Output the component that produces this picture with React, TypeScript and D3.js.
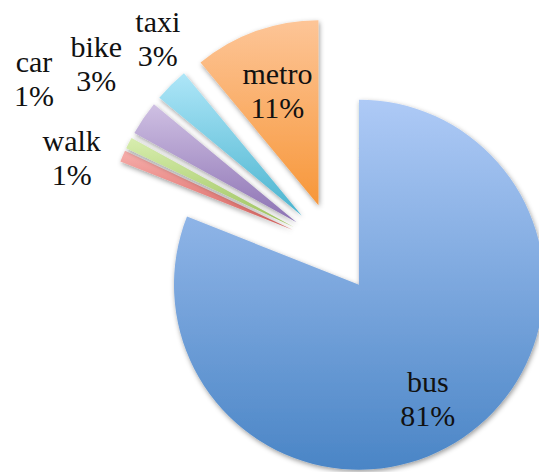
import React from 'react';
import * as d3 from 'd3';

// Travel mode shares (%), clockwise from 12 o'clock
const categories = ['bus', 'car', 'walk', 'bike', 'taxi', 'metro'];
const shares = [81, 1, 1, 3, 3, 11];

// Office-2007 style gradient fills: light at top, full colour at bottom
const topColors = ['#aecaf6', '#f6aeab', '#d8eeaf', '#cfc0e3', '#aee6f8', '#fdc597'];
const bottomColors = ['#4a85c6', '#da625e', '#9cc25c', '#8c72b3', '#4ab4cf', '#f7973a'];

// Label placement: inside slices use a fraction of the radius along the
// bisector; outside ones use polar (degrees clockwise from top, px from centre)
const labelPlacement: Record<string, { inside?: number; angle?: number; dist?: number; nudge?: [number, number] }> = {
  bus: { inside: 0.72, nudge: [-6, 4] },
  metro: { inside: 0.655 },
  taxi: { angle: 319.9, dist: 273 },
  bike: { angle: 307.7, dist: 300 },
  car: { angle: 299.4, dist: 344 },
  walk: { angle: 288.9, dist: 277 },
};

const WIDTH = 539;
const HEIGHT = 472;
const CX = 333.7;
const CY = 247.5;
const RADIUS = 185;
const EXPLODE = 45;
const FONT = '"Liberation Serif", "Times New Roman", serif';

export default function App() {
  const data = categories.map((name, i) => ({ name, value: shares[i], i }));
  const pie = d3.pie<{ name: string; value: number; i: number }>()
    .value(d => d.value)
    .sort(null)
    .startAngle(0)
    .endAngle(2 * Math.PI);
  const arcs = pie(data);
  const arc = d3.arc<d3.PieArcDatum<{ name: string; value: number; i: number }>>()
    .innerRadius(0)
    .outerRadius(RADIUS);

  const polar = (angle: number, r: number): [number, number] => [Math.sin(angle) * r, -Math.cos(angle) * r];

  return (
    <svg width={WIDTH} height={HEIGHT} style={{ position: 'absolute', left: 0, top: 0, background: '#fff' }}>
      <defs>
        {arcs.map(a => (
          <linearGradient key={a.data.name} id={`grad-${a.data.name}`} x1="0" y1="0" x2="0" y2="1">
            <stop offset="0%" stopColor={topColors[a.data.i]} />
            <stop offset="100%" stopColor={bottomColors[a.data.i]} />
          </linearGradient>
        ))}
        <filter id="shadow" x="-20%" y="-20%" width="140%" height="140%">
          <feDropShadow dx="1" dy="2" stdDeviation="2.5" floodColor="#000" floodOpacity="0.4" />
        </filter>
      </defs>
      <g transform={`translate(${CX},${CY})`}>
        {arcs.map(a => {
          const mid = (a.startAngle + a.endAngle) / 2;
          const [ox, oy] = polar(mid, EXPLODE);
          return (
            <path
              key={a.data.name}
              d={arc(a) || ''}
              transform={`translate(${ox},${oy})`}
              fill={`url(#grad-${a.data.name})`}
              filter="url(#shadow)"
            />
          );
        })}
        {arcs.map(a => {
          const p = labelPlacement[a.data.name];
          const mid = (a.startAngle + a.endAngle) / 2;
          let x: number, y: number;
          if (p.inside !== undefined) {
            const [ox, oy] = polar(mid, EXPLODE + RADIUS * p.inside);
            x = ox; y = oy;
          } else {
            const [ox, oy] = polar(((p.angle || 0) * Math.PI) / 180, p.dist || 0);
            x = ox; y = oy;
          }
          if (p.nudge) { x += p.nudge[0]; y += p.nudge[1]; }
          return (
            <text
              key={`lbl-${a.data.name}`}
              x={x}
              y={y}
              textAnchor="middle"
              fontFamily={FONT}
              fontSize={30}
              fill="#111"
            >
              <tspan x={x} dy={-7}>{a.data.name}</tspan>
              <tspan x={x} dy={34}>{`${a.data.value}%`}</tspan>
            </text>
          );
        })}
      </g>
    </svg>
  );
}
